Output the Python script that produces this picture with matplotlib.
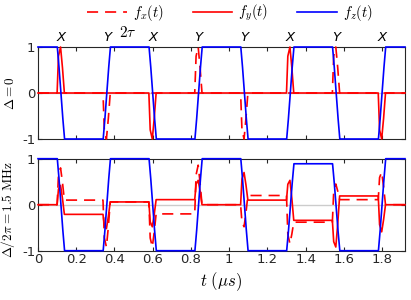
import matplotlib
matplotlib.use("Agg")
import matplotlib.pyplot as plt

# ---------------- data ----------------
pulse_t = [0.12, 0.36, 0.60, 0.84, 1.08, 1.32, 1.56, 1.80]
pulse_lbl = ['X', 'Y', 'X', 'Y', 'Y', 'X', 'Y', 'X']
t_end = 1.92

# Delta = 0 : plateau levels (before first pulse, after each pulse) and peak values during pulses
fz0_lvl = [1, -1, 1, -1, 1, -1, 1, -1, 1]
fx0_lvl = [0, 0, 0, 0, 0, 0, 0, 0, 0]
fy0_lvl = [0, 0, 0, 0, 0, 0, 0, 0, 0]
fx0_pk = [0, -1, 0, 1, -1, 0, 1, 0]
fy0_pk = [1, 0, -1, 0, 0, 1, 0, -1]

# Delta/2pi = 1.5 MHz
fz1_lvl = [1, -1, 1, -1, 1, -1, 0.89, -1, 1]
fx1_lvl = [0, 0.10, 0.06, -0.20, 0, 0.20, -0.38, 0.11, 0]
fy1_lvl = [0, -0.21, 0.06, 0.11, 0, 0.10, -0.34, 0.19, 0]
fx1_pk = [0.80, -0.92, -0.92, 0.86, -0.48, -0.85, 0.45, 0.71]
fy1_pk = [0.42, -0.52, -0.48, 0.53, 0.70, 0.53, -0.92, -0.59]

xticks = [0, 0.2, 0.4, 0.6, 0.8, 1.0, 1.2, 1.4, 1.6, 1.8]
xticklabels = ['0', '0.2', '0.4', '0.6', '0.8', '1', '1.2', '1.4', '1.6', '1.8']
yticks = [-1, 0, 1]
yticklabels = ['-1', '0', '1']

# pulse shape profiles (time offsets from pulse centre, fraction of excursion)
red_in_off = [-0.020, -0.013, -0.002]
red_in_frac = [0.0, 0.8, 1.0]
red_out_off = [0.008, 0.018]
red_out_frac = [0.55, 0.0]
blue_off = [-0.019, -0.010, 0.0, 0.010, 0.019]
blue_frac = [0.0, 0.22, 0.5, 0.78, 1.0]


def build_red(levels, peaks):
    t, y = [0.0], [levels[0]]
    for k, tc in enumerate(pulse_t):
        for o, a in zip(red_in_off, red_in_frac):
            t.append(tc + o)
            y.append(levels[k] + (peaks[k] - levels[k]) * a)
        for o, b in zip(red_out_off, red_out_frac):
            t.append(tc + o)
            y.append(levels[k + 1] + (peaks[k] - levels[k + 1]) * b)
    t.append(t_end)
    y.append(levels[-1])
    return t, y


def build_blue(levels):
    t, y = [0.0], [levels[0]]
    for k, tc in enumerate(pulse_t):
        for o, w in zip(blue_off, blue_frac):
            t.append(tc + o)
            y.append(levels[k] + (levels[k + 1] - levels[k]) * w)
    t.append(t_end)
    y.append(levels[-1])
    return t, y


plt.rcParams['mathtext.fontset'] = 'cm'
plt.rcParams['axes.unicode_minus'] = False
plt.rcParams['lines.scale_dashes'] = False

W, H = 411, 300
fig = plt.figure(figsize=(W / 100, H / 100), dpi=100)
ax1 = fig.add_axes([38 / W, 1 - 139 / H, 367 / W, 92 / H])
ax2 = fig.add_axes([38 / W, 1 - 250.7 / H, 367 / W, 92 / H])

lw = 1.2
red = '#ff0000'
blue = '#0000ff'
edge = '#262626'

panels = [
    (ax1, fx0_lvl, fx0_pk, fy0_lvl, fy0_pk, fz0_lvl, r'$\Delta = 0$'),
    (ax2, fx1_lvl, fx1_pk, fy1_lvl, fy1_pk, fz1_lvl, r'$\Delta/2\pi = 1.5\ \mathrm{MHz}$'),
]

handles = None
for ax, fxl, fxp, fyl, fyp, fzl, ylab in panels:
    ax.axhline(0, color='#cccccc', lw=1.0, zorder=1)
    tx, yx = build_red(fxl, fxp)
    ty, yy = build_red(fyl, fyp)
    tz, yz = build_blue(fzl)
    h1, = ax.plot(tx, yx, color=red, lw=lw, dashes=(8, 5), zorder=3, clip_on=False)
    h2, = ax.plot(ty, yy, color=red, lw=lw, zorder=3, clip_on=False)
    h3, = ax.plot(tz, yz, color=blue, lw=lw, zorder=4, clip_on=False)
    if handles is None:
        handles = [h1, h2, h3]
    ax.set_xlim(0, t_end)
    ax.set_ylim(-1, 1)
    ax.set_xticks(xticks)
    ax.set_yticks(yticks)
    ax.set_yticklabels(yticklabels)
    ax.tick_params(direction='in', top=True, right=True, length=3, width=0.8,
                   colors=edge, labelsize=9.5, pad=2)
    for s in ax.spines.values():
        s.set_color(edge)
        s.set_linewidth(0.8)
        s.set_zorder(2)
    ax.set_ylabel(ylab, fontsize=9.5, labelpad=2)

ax1.set_xticklabels([])
ax2.set_xticklabels(xticklabels)
ax2.set_xlabel(r'$t\ (\mu s)$', fontsize=12, labelpad=3)
ax1.yaxis.set_label_coords(-0.058, 0.5)
ax2.yaxis.set_label_coords(-0.058, 0.45)

for tc, lb in zip(pulse_t, pulse_lbl):
    ax1.text(tc, 1.03, lb, ha='center', va='bottom', fontsize=9.5,
             style='italic', transform=ax1.get_xaxis_transform())
ax1.text(0.47, 1.08, r'$2\tau$', ha='center', va='bottom', fontsize=11,
         transform=ax1.get_xaxis_transform())

fig.legend(handles, [r'$f_x(t)$', r'$f_y(t)$', r'$f_z(t)$'], loc='center',
           bbox_to_anchor=(230 / W, 1 - 13 / H), ncol=3, frameon=False,
           fontsize=10.5, handlelength=2.7, columnspacing=2.0, handletextpad=0.4)

fig.savefig('out.png', dpi=100)
